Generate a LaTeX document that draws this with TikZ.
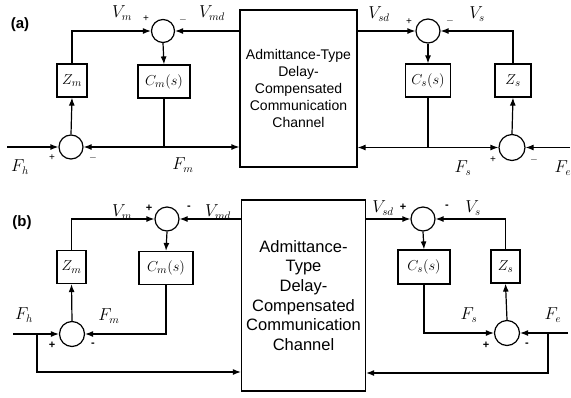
\documentclass[tikz,border=0pt]{standalone}
\usepackage{fontspec}
\setmainfont{Liberation Sans}
\usetikzlibrary{arrows.meta,calc}
\begin{document}
\begin{tikzpicture}[x=1pt,y=-1pt,
  every path/.style={line width=1.2pt},
  arr/.style={-{Latex[length=8pt,width=6pt]}},
  sumc/.style={draw,circle,inner sep=0pt,minimum size=#1},
  blk/.style={draw,rectangle,inner sep=0pt,font=\fontsize{15}{17}\selectfont},
  lab/.style={font=\fontsize{16}{18}\selectfont,inner sep=0pt},
  sgn/.style={font=\fontsize{10}{12}\selectfont,inner sep=0pt},
  sgnb/.style={font=\fontsize{11}{12}\selectfont\bfseries,inner sep=0pt},
  ttl/.style={font=\fontsize{15}{17}\selectfont\bfseries,inner sep=0pt}]
\useasboundingbox (0,0) rectangle (571,397);
% ---------------- (a) ----------------
\node[ttl] (ta) at (20,25) {(a)};
\node[sumc=23pt] (sa1) at (163,31) {};
\node[blk,minimum width=30pt,minimum height=33pt] (zma) at (72,80.5) {$Z_m$};
\node[blk,minimum width=52pt,minimum height=33pt] (cma) at (164,81.5) {$C_m(s)$};
\node[sumc=24pt] (sb1) at (71,147) {};
\node[draw,minimum width=117pt,minimum height=157pt,inner sep=0pt,align=center,
  font=\fontsize{14}{17}\selectfont] (cha) at (298.5,88.5)
  {Admittance-Type\\Delay-\\Compensated\\Communication\\Channel};
\node[sumc=24pt] (sa2) at (428,31) {};
\node[blk,minimum width=45pt,minimum height=33pt] (csa) at (428,80.5) {$C_s(s)$};
\node[blk,minimum width=36pt,minimum height=33pt] (zsa) at (513,80.5) {$Z_s$};
\node[sumc=26pt] (sb2) at (512,147.5) {};
\coordinate (ina) at (7,147);
\coordinate (inea) at (570,147.5);
\coordinate (ja1) at (cma.south |- sb1);
\coordinate (ja2) at (csa.south |- sb2);
\draw[arr] (ina) -- (sb1.west);
\draw[arr] (sb1.north) -- (zma.south);
\draw[arr] (zma.north) |- (sa1.west);
\draw[arr] (cha.west |- sa1) -- (sa1.east);
\draw[arr] (sa1.south) -- (cma.north);
\draw (cma.south) -- (ja1);
\draw[arr] (ja1) -- (sb1.east);
\draw[arr] (ja1) -- (cha.west |- ja1);
\draw[arr] (cha.east |- sa2) -- (sa2.west);
\draw[arr] (sa2.south) -- (csa.north);
\draw (csa.south) -- (ja2);
\draw[arr] (ja2) -- (cha.east |- ja2);
\draw[arr] (ja2) -- (sb2.west);
\draw[arr] (inea) -- (sb2.east);
\draw[arr] (sb2.north) -- (zsa.south);
\draw[arr] (zsa.north) |- (sa2.east);
\node[lab] (vma) at (122,13) {$V_m$};
\node[sgn] (pa1) at (146,19) {+};
\node[sgn] (ma1) at (183,20) {$-$};
\node[lab] (vmda) at (212,13) {$V_{md}$};
\node[lab] (fha) at (20,167) {$F_h$};
\node[sgn] (pa2) at (52,158) {+};
\node[sgn] (ma2) at (93,158) {$-$};
\node[lab] (fma) at (183,165) {$F_m$};
\node[lab] (vsda) at (379,14) {$V_{sd}$};
\node[sgn] (pa3) at (409,22) {+};
\node[sgn] (ma3) at (450,21) {$-$};
\node[lab] (vsa) at (477,14) {$V_s$};
\node[lab] (fsa) at (463,168) {$F_s$};
\node[sgn] (pa4) at (493,160) {+};
\node[sgn] (ma4) at (534,160) {$-$};
\node[lab] (fea) at (563,168) {$F_e$};
% ---------------- (b) ----------------
\node[ttl] (tb) at (22,223) {(b)};
\node[sumc=24pt] (sa3) at (167,219) {};
\node[blk,minimum width=29pt,minimum height=33pt] (zmb) at (71.5,267) {$Z_m$};
\node[blk,minimum width=54pt,minimum height=33pt] (cmb) at (166,268) {$C_m(s)$};
\node[sumc=25pt] (sb3) at (72,334) {};
\node[draw,minimum width=124pt,minimum height=191pt,inner sep=0pt,align=center,
  font=\fontsize{16.5}{19.7}\selectfont] (chb) at (303.5,295.5)
  {Admittance-\\Type\\Delay-\\Compensated\\Communication\\Channel};
\node[sumc=24pt] (sa4) at (423,219) {};
\node[blk,minimum width=52pt,minimum height=34pt] (csb) at (424,267) {$C_s(s)$};
\node[blk,minimum width=29pt,minimum height=33pt] (zsb) at (505.5,266.5) {$Z_s$};
\node[sumc=25pt] (sb4) at (507,333) {};
\coordinate (inb) at (13,334);
\coordinate (jb1) at (37,334);
\coordinate (cb1) at (37,372);
\coordinate (ineb) at (568,333);
\coordinate (jb2) at (548,333);
\coordinate (cb2) at (548,373);
\draw[arr] (inb) -- (sb3.west);
\draw[arr] (jb1) -- (cb1) -- (chb.west |- cb1);
\draw[arr] (sb3.north) -- (zmb.south);
\draw[arr] (zmb.north) |- (sa3.west);
\draw[arr] (chb.west |- sa3) -- (sa3.east);
\draw[arr] (sa3.south) -- (cmb.north);
\draw[arr] (cmb.south) |- (sb3.east);
\draw[arr] (chb.east |- sa4) -- (sa4.west);
\draw[arr] (sa4.south) -- (csb.north);
\draw[arr] (csb.south) |- (sb4.west);
\draw[arr] (ineb) -- (sb4.east);
\draw[arr] (jb2) -- (cb2) -- (chb.east |- cb2);
\draw[arr] (sb4.north) -- (zsb.south);
\draw[arr] (zsb.north) |- (sa4.east);
\node[lab] (vmb) at (122,212) {$V_m$};
\node[sgnb] (pb1) at (149,208) {+};
\node[sgnb] (mb1) at (189,208) {-};
\node[lab] (vmdb) at (218,212) {$V_{md}$};
\node[lab] (fhb) at (24,315) {$F_h$};
\node[lab] (fmb) at (109,316) {$F_m$};
\node[sgnb] (pb2) at (52,345) {+};
\node[sgnb] (mb2) at (93,345) {-};
\node[lab] (vsdb) at (383,208) {$V_{sd}$};
\node[sgnb] (pb3) at (403,207) {+};
\node[sgnb] (mb3) at (447,207) {-};
\node[lab] (vsb) at (473,208) {$V_s$};
\node[lab] (fsb) at (469,315) {$F_s$};
\node[sgnb] (pb4) at (486,345) {+};
\node[sgnb] (mb4) at (527,345) {-};
\node[lab] (feb) at (553,315) {$F_e$};
\end{tikzpicture}
\end{document}
